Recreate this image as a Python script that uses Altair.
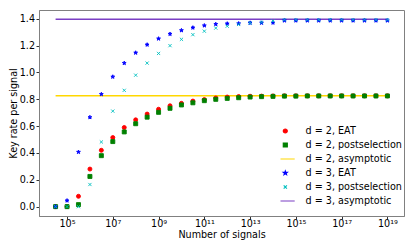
import altair as alt
import pandas as pd

# exponents of the number of signals (10**e)
exponents = [4.5, 5.0, 5.5, 6.0, 6.5, 7.0, 7.5, 8.0, 8.5, 9.0, 9.5, 10.0, 10.5, 11.0, 11.5,
             12.0, 12.5, 13.0, 13.5, 14.0, 14.5, 15.0, 15.5, 16.0, 16.5, 17.0, 17.5, 18.0, 18.5, 19.0]

d2_eat = [0.0, 0.0, 0.077, 0.28, 0.42, 0.515, 0.59, 0.647, 0.69, 0.726, 0.752, 0.77, 0.787, 0.798, 0.81,
          0.817, 0.821, 0.823, 0.824, 0.825, 0.826, 0.826, 0.826, 0.826, 0.826, 0.826, 0.826, 0.826, 0.826, 0.826]
d2_post = [0.0, 0.0, 0.015, 0.225, 0.38, 0.485, 0.557, 0.618, 0.667, 0.703, 0.733, 0.758, 0.774, 0.79, 0.8,
           0.807, 0.812, 0.817, 0.82, 0.822, 0.824, 0.824, 0.825, 0.825, 0.825, 0.825, 0.825, 0.825, 0.825, 0.825]
d3_eat = [0.0, 0.045, 0.407, 0.666, 0.838, 0.968, 1.07, 1.147, 1.207, 1.252, 1.287, 1.314, 1.334, 1.35, 1.36,
          1.364, 1.365, 1.37, 1.37, 1.371, 1.387, 1.387, 1.387, 1.387, 1.387, 1.387, 1.387, 1.387, 1.387, 1.387]
d3_post = [0.0, 0.0, 0.0, 0.165, 0.482, 0.712, 0.867, 0.98, 1.07, 1.142, 1.2, 1.247, 1.282, 1.308, 1.331,
           1.345, 1.358, 1.369, 1.375, 1.384, 1.393, 1.393, 1.393, 1.393, 1.393, 1.393, 1.393, 1.393, 1.393, 1.393]
d2_asym = 0.826
d3_asym = 1.396

series_names = ["d = 2, EAT", "d = 2, postselection", "d = 2, asymptotic",
                "d = 3, EAT", "d = 3, postselection", "d = 3, asymptotic"]
series_colors = ["#ff0000", "#008000", "#ffd700", "#0000ff", "#00bfbf", "#7b3fc4"]
X_PATH = "M-0.8,-0.8L0.8,0.8M-0.8,0.8L0.8,-0.8"
LINE_PATH = "M-4.7,0L4.7,0"
STAR_PATH = ("M0,-1L0.235,-0.324L0.951,-0.309L0.38,0.124L0.588,0.809L0,0.4"
             "L-0.588,0.809L-0.38,0.124L-0.951,-0.309L-0.235,-0.324Z")
series_shapes = ["circle", "square", LINE_PATH, STAR_PATH, X_PATH, LINE_PATH]

x_tick_exps = [5, 7, 9, 11, 13, 15, 17, 19]
x_tick_labels = ["10⁵", "10⁷", "10⁹", "10¹¹", "10¹³", "10¹⁵", "10¹⁷", "10¹⁹"]
y_ticks = [0.0, 0.2, 0.4, 0.6, 0.8, 1.0, 1.2, 1.4]

# ---- tables ----
rows = []
for name, vals in [(series_names[0], d2_eat), (series_names[1], d2_post),
                   (series_names[3], d3_eat), (series_names[4], d3_post)]:
    for e, v in zip(exponents, vals):
        rows.append({"signals": 10 ** e, "rate": v, "series": name})
pts = pd.DataFrame(rows)

lrows = []
for name, v in [(series_names[2], d2_asym), (series_names[5], d3_asym)]:
    for e in (exponents[0], exponents[-1]):
        lrows.append({"signals": 10 ** e, "rate": v, "series": name})
lines_df = pd.DataFrame(lrows)

label_expr = " : ".join(
    f"round(log(datum.value)/LN10) == {e} ? '{lab}'" for e, lab in zip(x_tick_exps, x_tick_labels)
) + " : ''"

FONT = "DejaVu Sans"
xmin_e, xmax_e = 4.5 - 0.725, 19.0 + 0.725
ymin, ymax = -0.0698, 1.4658

x_enc = alt.X("signals:Q",
              scale=alt.Scale(type="log", domain=[10 ** xmin_e, 10 ** xmax_e], nice=False),
              axis=alt.Axis(values=[10 ** e for e in x_tick_exps], labelExpr=label_expr,
                            title="Number of signals", grid=False, orient="bottom",
                            labelPadding=-1, titleY=13.5, titleBaseline="top"))
y_enc = alt.Y("rate:Q", scale=alt.Scale(domain=[ymin, ymax], nice=False, zero=False),
              axis=alt.Axis(values=y_ticks, format=".1f", title="Key rate per signal", grid=False,
                            orient="left", titlePadding=1))

leg = alt.Legend(title=None, orient="none", legendX=241.5, legendY=114, padding=0,
                 clipHeight=14, rowPadding=0, labelOffset=15.5, symbolStrokeWidth=1.2,
                 symbolSize=16,
                 labelFontSize=9.6, labelFont=FONT, labelColor="black", labelLimit=300,
                 symbolOpacity=1)

col_sc = alt.Scale(domain=series_names, range=series_colors)
shape_sc = alt.Scale(domain=series_names, range=series_shapes)

lines = alt.Chart(lines_df).mark_line(strokeWidth=1.5).encode(
    x=x_enc, y=y_enc,
    stroke=alt.Stroke("series:N", scale=col_sc, legend=leg),
)

points = alt.Chart(pts).mark_point(filled=False, strokeWidth=0.9, opacity=1, size=16).encode(
    x=x_enc, y=y_enc,
    fill=alt.Fill("series:N", scale=col_sc, legend=leg),
    stroke=alt.Stroke("series:N", scale=col_sc, legend=leg),
    shape=alt.Shape("series:N", scale=shape_sc, legend=leg),
)

chart = alt.layer(lines, points).properties(
    width=365, height=206,
    padding={"left": 31, "top": 2, "right": 3, "bottom": 33},
    autosize=alt.AutoSizeParams(type="none"),
).configure_view(stroke="#808080", strokeWidth=1).configure_axis(
    labelFont=FONT, titleFont=FONT, labelFontSize=9.6, titleFontSize=9.6,
    labelColor="black", titleColor="black", titleFontWeight="normal",
    domainColor="#808080", tickColor="#333333", tickSize=3, labelPadding=1.5,
)

chart.save("out.html", embed_options={"renderer": "svg", "actions": False})
